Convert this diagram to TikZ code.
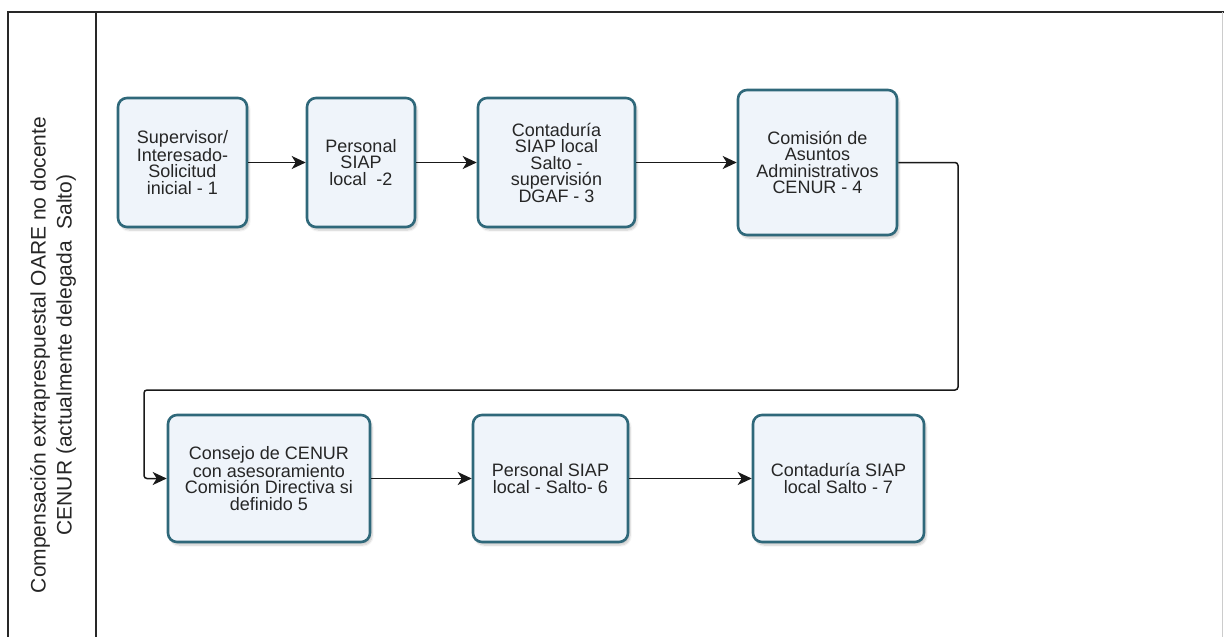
\documentclass[tikz,border=0pt]{standalone}
\usepackage{fontspec}
\setmainfont{Liberation Sans}
\usetikzlibrary{arrows.meta, shadows.blur}
\definecolor{boxline}{RGB}{47,104,122}
\definecolor{boxfill}{RGB}{239,244,250}
\definecolor{frameline}{RGB}{40,40,40}

\begin{document}
\begin{tikzpicture}[
    x=1pt, y=-1pt,
    % 定义节点样式
    stepnode/.style={rectangle, rounded corners=9pt, line width=2.6pt, draw=boxline, fill=boxfill,
        blur shadow={shadow xshift=2pt, shadow yshift=-3pt, shadow opacity=22, shadow blur steps=6},
        align=center, text=black!85, inner sep=2pt, font=\fontsize{18}{16.5}\selectfont},
    flowline/.style={line width=1.5pt, draw=black!90, -{Stealth[length=14pt, width=13pt, inset=4pt]}},
    frame/.style={line width=1.4pt, draw=frameline},
    lanelabel/.style={rotate=90, align=center, text=black!85, font=\fontsize{21}{26}\selectfont}
]
    \useasboundingbox (0,0) rectangle (1224,637);

    % 泳道框
    \draw [frame] (8,637) -- (8,12) -- (1224,12);
    \draw [frame] (96,12) -- (96,637);
    \draw [line width=1pt, draw=black!20] (1222,12) -- (1222,637);
    \node [lanelabel] (lane) at (53,355) {Compensación extraprespuestal OARE no docente\\CENUR (actualmente delegada~ Salto)};

    % 第一行节点
    \node [stepnode, minimum width=129, minimum height=129] (s1) at (182.5,162.5) {Supervisor/\\Interesado-\\Solicitud\\inicial - 1};
    \node [stepnode, minimum width=108, minimum height=129] (s2) at (361,162.5) {Personal\\SIAP\\local~ -2};
    \node [stepnode, minimum width=157, minimum height=129] (s3) at (556.5,162.5) {Contaduría\\SIAP local\\Salto -\\supervisión\\DGAF - 3};
    \node [stepnode, minimum width=159, minimum height=145] (s4) at (817.5,162.5) {Comisión de\\Asuntos\\Administrativos\\CENUR - 4};

    % 第二行节点
    \node [stepnode, minimum width=202, minimum height=127] (s5) at (269,478.5) {Consejo de CENUR\\con asesoramiento\\Comisión Directiva si\\definido 5};
    \node [stepnode, minimum width=155, minimum height=127] (s6) at (550.5,478.5) {Personal SIAP\\local - Salto- 6};
    \node [stepnode, minimum width=171, minimum height=127] (s7) at (838.5,478.5) {Contaduría SIAP\\local Salto - 7};

    % 连线
    \draw [flowline] (s1) -- (s2);
    \draw [flowline] (s2) -- (s3);
    \draw [flowline] (s3) -- (s4);
    \coordinate (turnR) at (958,390);
    \coordinate (turnL) at (144,390);
    \draw [flowline, rounded corners=3pt] (s4.east) -| (turnR) -- (turnL) |- (s5.west);
    \draw [flowline] (s5) -- (s6);
    \draw [flowline] (s6) -- (s7);
\end{tikzpicture}
\end{document}
